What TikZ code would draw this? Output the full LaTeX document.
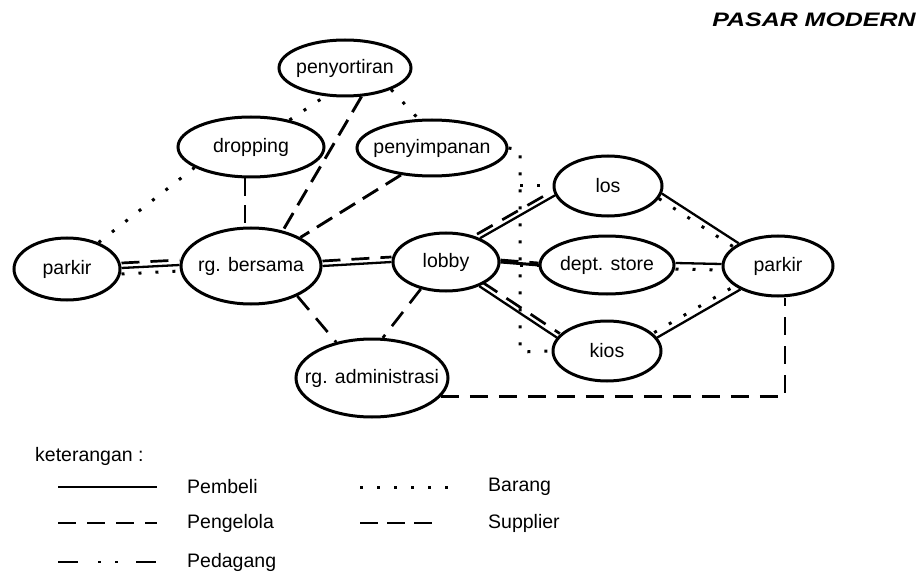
\documentclass[tikz,border=0pt]{standalone}
\usepackage{fontspec}
\setmainfont{Liberation Sans}
\usetikzlibrary{shapes.geometric,calc}
\newcommand{\isi}[1]{\makebox[0pt]{#1}}
\tikzset{
  ruang/.style={ellipse,draw,line width=3pt,inner sep=0pt,font=\fontsize{19.5}{22}\selectfont},
  pembeli/.style={line width=2.3pt},
  pengelola/.style={line width=2.7pt,dash pattern=on 18pt off 11pt},
  pedagang/.style={line width=2.7pt,dash pattern=on 20pt off 20pt on 3pt off 14pt on 3pt off 18pt},
  barang/.style={line width=3pt,dash pattern=on 3pt off 14pt},
  supplier/.style={line width=2.9pt,dash pattern=on 18pt off 9pt},
  ket/.style={anchor=west,inner sep=0pt,font=\fontsize{19.5}{22}\selectfont},
}
\begin{document}
\begin{tikzpicture}[x=1pt,y=-1pt]
\useasboundingbox (0,0) rectangle (918,572);
\node[font=\fontsize{19.5}{22}\selectfont\bfseries\itshape] (judul) at (814,20) {\scalebox{1.28}[1]{PASAR MODERN}};

\node[ruang,minimum width=106,minimum height=62] (parkirA) at (67,269) {\isi{parkir}};
\node[ruang,minimum width=140,minimum height=76] (bersama) at (251,266) {\isi{rg. bersama}};
\node[ruang,minimum width=146,minimum height=60] (dropping) at (251,147) {\isi{dropping}};
\node[ruang,minimum width=132,minimum height=56] (sortir) at (345,68) {\isi{penyortiran}};
\node[ruang,minimum width=150,minimum height=56] (simpan) at (432,148) {\isi{penyimpanan}};
\node[ruang,minimum width=106,minimum height=58] (lobby) at (446,262) {\isi{lobby}};
\node[ruang,minimum width=108,minimum height=60] (los) at (608,186) {\isi{los}};
\node[ruang,minimum width=134,minimum height=58] (dept) at (607,265) {\isi{dept. store}};
\node[ruang,minimum width=110,minimum height=60] (parkirB) at (778,266) {\isi{parkir}};
\node[ruang,minimum width=108,minimum height=60] (kios) at (607,351) {\isi{kios}};
\node[ruang,minimum width=152,minimum height=78] (admin) at (372,378) {\isi{rg. administrasi}};

\draw[pengelola] ([yshift=6pt]parkirA.east) -- ([yshift=6pt]bersama.west);
\draw[pembeli] ([yshift=1pt]parkirA.east) -- ([yshift=1pt]bersama.west);
\draw[barang] ([yshift=-5pt]parkirA.east) -- ([yshift=-5pt]bersama.west);
\draw[pengelola] ([yshift=5pt]bersama.east) -- ([yshift=5pt]lobby.west);
\draw[pembeli] (bersama.east) -- (lobby.west);
\draw[pembeli,line width=3pt] (lobby.east) -- (dept.west);
\draw[pengelola] ([yshift=2pt]lobby.east) -- ([yshift=2pt]dept.west);
\draw[pembeli] (lobby.35) -- (los.190);
\draw[pengelola] ([shift={(-3pt,4pt)}]lobby.35) -- ([shift={(-3pt,4pt)}]los.190);
\draw[pembeli] (lobby.-36) -- (kios.165);
\draw[pengelola] ([shift={(3pt,4pt)}]lobby.-36) -- ([shift={(3pt,4pt)}]kios.165);
\draw[pembeli] (los.-8) -- (parkirB.150);
\draw[barang] ([shift={(-3pt,-5pt)}]los.-8) -- ([shift={(-3pt,-5pt)}]parkirB.150);
\draw[pembeli] ([yshift=2pt]dept.east) -- ([yshift=2pt]parkirB.west);
\draw[barang] ([yshift=-4pt]dept.east) -- ([yshift=-4pt]parkirB.west);
\draw[pembeli] (kios.15) -- (parkirB.212);
\draw[barang] ([shift={(-3pt,5pt)}]kios.15) -- ([shift={(-3pt,5pt)}]parkirB.212);

\draw[supplier] ([xshift=-6pt]dropping.south) -- ([xshift=-6pt]bersama.north);
\draw[supplier] (sortir.-60) -- (bersama.48);
\draw[supplier] (simpan.221) -- (bersama.30);
\draw[pengelola] (bersama.-33) -- (admin.135);
\draw[pengelola] (lobby.227) -- (admin.75);
\coordinate (sudut) at ([xshift=7pt]parkirB.south |- admin.-15);
\draw[pengelola] (admin.-15) -- (sudut) -- ([xshift=7pt]parkirB.south);

\draw[barang] (parkirA.40) -- (dropping.200);
\draw[barang] (dropping.35) -- (sortir.235);
\draw[barang] (sortir.-25) -- (simpan.115);
\coordinate (gudangA) at (520,150);
\coordinate (gudangB) at (520,352);
\draw[barang] (simpan.east) -- (gudangA) -- (gudangB) -- (kios.west);
\draw[barang] (gudangA |- los.west) -- (los.west);
\draw[barang] (gudangA |- dept.west) -- (dept.west);

\node[ket] (keterangan) at (35,456) {keterangan :};
\draw[pembeli] (58,487) -- ++(99,0);
\node[ket] (tPembeli) at (187,487) {Pembeli};
\draw[pengelola] (58,523) -- ++(99,0);
\node[ket] (tPengelola) at (187,523) {Pengelola};
\draw[pedagang] (58,562) -- ++(99,0);
\node[ket] (tPedagang) at (187,562) {Pedagang};
\draw[barang] (360,487) -- ++(98,0);
\node[ket] (tBarang) at (488,487) {Barang};
\draw[supplier] (360,523) -- ++(80,0);
\node[ket] (tSupplier) at (488,523) {Supplier};
\end{tikzpicture}
\end{document}
